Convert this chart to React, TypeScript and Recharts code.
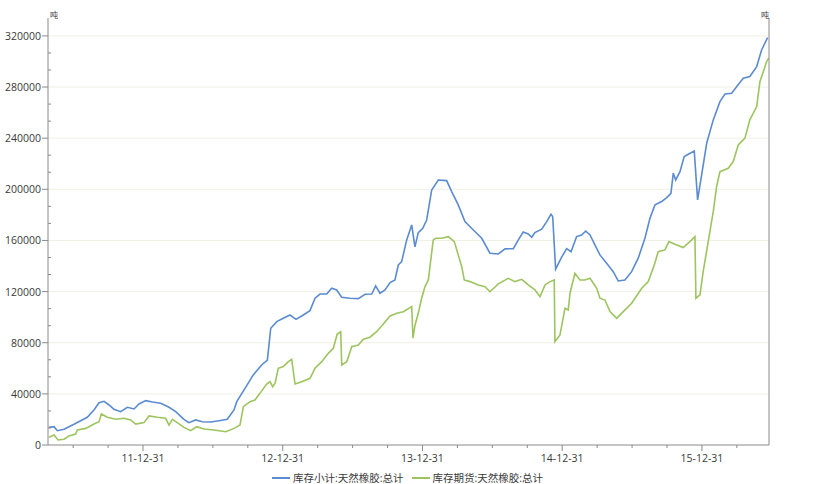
import { LineChart, Line, XAxis, YAxis, ReferenceLine, Legend } from "recharts";

// 时间以小数年表示 (2012.0 = 2011-12-31)
const blueSeries: [number, number][] = [
  [2011.327, 13800], [2011.363, 14300], [2011.387, 11200], [2011.435, 12300], [2011.506, 16200],
  [2011.554, 19000], [2011.601, 21700], [2011.649, 27400], [2011.685, 33100], [2011.721, 34200],
  [2011.757, 31300], [2011.792, 27900], [2011.840, 26100], [2011.888, 29500], [2011.936, 28200],
  [2011.971, 32100], [2012.019, 34700], [2012.067, 33600], [2012.127, 32600], [2012.186, 29500],
  [2012.234, 26100], [2012.293, 20100], [2012.329, 17500], [2012.377, 19600], [2012.424, 18200],
  [2012.485, 18000], [2012.544, 19000], [2012.603, 20100], [2012.651, 27400], [2012.671, 33900],
  [2012.730, 44300], [2012.789, 54800], [2012.849, 62600], [2012.890, 66500], [2012.914, 91300],
  [2012.957, 96500], [2013.004, 99100], [2013.052, 101700], [2013.095, 98300], [2013.147, 101700],
  [2013.195, 105100], [2013.231, 114800], [2013.267, 118100], [2013.315, 118100], [2013.350, 122600],
  [2013.386, 121300], [2013.422, 115600], [2013.481, 114800], [2013.541, 114500], [2013.589, 117900],
  [2013.637, 118100], [2013.665, 124400], [2013.696, 118700], [2013.732, 121300], [2013.768, 127000],
  [2013.803, 129100], [2013.827, 140800], [2013.851, 143400], [2013.887, 160400], [2013.923, 172100],
  [2013.946, 155000], [2013.970, 166100], [2014.002, 169500], [2014.030, 176000], [2014.066, 199500],
  [2014.113, 207300], [2014.173, 206800], [2014.209, 198200], [2014.256, 187800], [2014.304, 174700],
  [2014.364, 168200], [2014.424, 161700], [2014.483, 150000], [2014.543, 149400], [2014.591, 153400],
  [2014.650, 153600], [2014.686, 160400], [2014.721, 166600], [2014.757, 165100], [2014.782, 162500],
  [2014.805, 166100], [2014.853, 168800], [2014.889, 174700], [2014.920, 180500], [2014.932, 178600],
  [2014.953, 137500], [2014.996, 146900], [2015.032, 153600], [2015.063, 151200], [2015.103, 163000],
  [2015.139, 164300], [2015.168, 167400], [2015.199, 164300], [2015.234, 156500], [2015.270, 148700],
  [2015.318, 142200], [2015.365, 135600], [2015.401, 128300], [2015.449, 129100], [2015.497, 135600],
  [2015.544, 146100], [2015.592, 161700], [2015.628, 177400], [2015.664, 187800], [2015.712, 190400],
  [2015.748, 193500], [2015.778, 196900], [2015.795, 212600], [2015.812, 207300], [2015.843, 213800],
  [2015.873, 225600], [2015.902, 227400], [2015.945, 230000], [2015.969, 191700], [2015.998, 211200],
  [2016.034, 236000], [2016.081, 254300], [2016.129, 268600], [2016.165, 274600], [2016.213, 275200],
  [2016.248, 280300], [2016.296, 286900], [2016.343, 288200], [2016.392, 296000], [2016.427, 309000],
  [2016.470, 318700],
];

const greenSeries: [number, number][] = [
  [2011.327, 6000], [2011.363, 7800], [2011.392, 3900], [2011.435, 4500], [2011.470, 7000],
  [2011.518, 8600], [2011.530, 11700], [2011.590, 13000], [2011.649, 16400], [2011.685, 18200],
  [2011.702, 24300], [2011.745, 21700], [2011.805, 20100], [2011.864, 20900], [2011.912, 19600],
  [2011.948, 16400], [2012.007, 17500], [2012.043, 22700], [2012.102, 21700], [2012.162, 20900],
  [2012.186, 15600], [2012.210, 20100], [2012.245, 17500], [2012.293, 13800], [2012.341, 11200],
  [2012.384, 14300], [2012.436, 12500], [2012.508, 11700], [2012.592, 10400], [2012.651, 13000],
  [2012.694, 15600], [2012.718, 30000], [2012.766, 33900], [2012.801, 35200], [2012.837, 40400],
  [2012.885, 47700], [2012.909, 49500], [2012.928, 45600], [2012.945, 48300], [2012.968, 60000],
  [2013.004, 61300], [2013.040, 65200], [2013.064, 67000], [2013.088, 47700], [2013.136, 49500],
  [2013.195, 52200], [2013.231, 60000], [2013.279, 65200], [2013.326, 71700], [2013.362, 75700],
  [2013.390, 86800], [2013.415, 88600], [2013.422, 62600], [2013.458, 65200], [2013.494, 76900],
  [2013.541, 78200], [2013.577, 82700], [2013.624, 84300], [2013.672, 88600], [2013.720, 94700],
  [2013.768, 100900], [2013.816, 103000], [2013.863, 104300], [2013.923, 108200], [2013.932, 83500],
  [2013.946, 93500], [2013.970, 103000], [2013.994, 114800], [2014.018, 123900], [2014.042, 129100],
  [2014.077, 160400], [2014.095, 161700], [2014.137, 161700], [2014.185, 163000], [2014.228, 159100],
  [2014.256, 148700], [2014.281, 139500], [2014.299, 129100], [2014.340, 127800], [2014.399, 125200],
  [2014.447, 123900], [2014.483, 119900], [2014.543, 126000], [2014.614, 130400], [2014.662, 127800],
  [2014.710, 129600], [2014.757, 125200], [2014.805, 121300], [2014.841, 116000], [2014.877, 125200],
  [2014.913, 127800], [2014.943, 129100], [2014.948, 80800], [2014.984, 86100], [2015.020, 107000],
  [2015.043, 105600], [2015.056, 118700], [2015.091, 134300], [2015.127, 129100], [2015.163, 129100],
  [2015.199, 130400], [2015.247, 122600], [2015.270, 114800], [2015.306, 113400], [2015.342, 104300],
  [2015.390, 99100], [2015.437, 104300], [2015.497, 110900], [2015.569, 122600], [2015.616, 127800],
  [2015.659, 140800], [2015.687, 151200], [2015.735, 152600], [2015.764, 159100], [2015.807, 157000],
  [2015.866, 154400], [2015.914, 159100], [2015.950, 163000], [2015.957, 114800], [2015.986, 117400],
  [2016.009, 135600], [2016.045, 159100], [2016.081, 182500], [2016.105, 202100], [2016.129, 213800],
  [2016.188, 216400], [2016.224, 221700], [2016.260, 234700], [2016.308, 240000], [2016.343, 254300],
  [2016.392, 264700], [2016.415, 284200], [2016.439, 292000], [2016.463, 299900], [2016.478, 302500],
];

const seriesNames = ["库存小计:天然橡胶:总计", "库存期货:天然橡胶:总计"];
const seriesColors = ["#5b8bd0", "#9dc45f"];

const yMajorTicks = [0, 40000, 80000, 120000, 160000, 200000, 240000, 280000, 320000];
const xQuarterTicks = [
  2011.5, 2011.75, 2012, 2012.25, 2012.5, 2012.75, 2013, 2013.25, 2013.5, 2013.75,
  2014, 2014.25, 2014.5, 2014.75, 2015, 2015.25, 2015.5, 2015.75, 2016, 2016.25,
];
const xYearLabels: Record<number, string> = {
  2012: "11-12-31",
  2013: "12-12-31",
  2014: "13-12-31",
  2015: "14-12-31",
  2016: "15-12-31",
};

// 每两个主刻度之间两个次刻度
const yAllTicks: number[] = [];
yMajorTicks.forEach((v, i) => {
  yAllTicks.push(v);
  if (i < yMajorTicks.length - 1) {
    const step = (yMajorTicks[i + 1] - v) / 3;
    yAllTicks.push(v + step, v + 2 * step);
  }
});

const blueData = blueSeries.map(([t, v]) => ({ t, v }));
const greenData = greenSeries.map(([t, v]) => ({ t, v }));

const FONT = '"Open Sans", "Noto Sans CJK SC", sans-serif';
const AXIS = "#8a8a8a";
const TEXT = "#3a3a3a";

const isMajor = (v: number) => yMajorTicks.includes(Math.round(v));

const LeftTick = ({ x, y, payload }: any) => {
  const major = isMajor(payload.value);
  return (
    <g>
      {major ? (
        <>
          <line x1={x - 6} x2={x} y1={y} y2={y} stroke={AXIS} />
          <text x={x - 7} y={y + 4} textAnchor="end" fontSize={10.5} fill={TEXT} fontFamily={FONT}>
            {Math.round(payload.value)}
          </text>
        </>
      ) : (
        <line x1={x} x2={x + 3} y1={y} y2={y} stroke={AXIS} />
      )}
    </g>
  );
};

const RightTick = ({ x, y, payload }: any) => {
  const major = isMajor(payload.value);
  return (
    <g>
      {major ? (
        <>
          <line x1={x} x2={x + 6} y1={y} y2={y} stroke={AXIS} />
          <text x={x + 8} y={y + 4} textAnchor="start" fontSize={10.5} fill={TEXT} fontFamily={FONT}>
            {Math.round(payload.value)}
          </text>
        </>
      ) : (
        <line x1={x - 3} x2={x} y1={y} y2={y} stroke={AXIS} />
      )}
    </g>
  );
};

const BottomTick = ({ x, y, payload }: any) => {
  const label = xYearLabels[payload.value];
  return (
    <g>
      <line x1={x} x2={x} y1={y} y2={y + (label ? 6 : 3)} stroke={AXIS} />
      {label && (
        <text x={x} y={y + 17} textAnchor="middle" fontSize={10.5} fill={TEXT} fontFamily={FONT}>
          {label}
        </text>
      )}
    </g>
  );
};

const LegendContent = () => (
  <div
    style={{
      display: "flex",
      justifyContent: "center",
      gap: 8,
      fontFamily: FONT,
      fontSize: 10.5,
      lineHeight: "12px",
      height: 12,
      color: TEXT,
    }}
  >
    {seriesNames.map((name, i) => (
      <div key={name} style={{ display: "flex", alignItems: "center", height: 12 }}>
        <span style={{ display: "inline-block", width: 18, height: 2, background: seriesColors[i], marginRight: 3 }} />
        <span>{name}</span>
      </div>
    ))}
  </div>
);

export default function App() {
  return (
    <div style={{ position: "absolute", left: 0, top: 0, width: 815, height: 484, background: "#fff" }}>
      <LineChart width={815} height={484} margin={{ top: 18, right: 0, bottom: 0, left: 0 }}>
        <XAxis
          dataKey="t"
          type="number"
          domain={[2011.32, 2016.48]}
          allowDataOverflow
          ticks={xQuarterTicks}
          interval={0}
          height={39}
          tickSize={0}
          tickMargin={0}
          tickLine={false}
          axisLine={{ stroke: AXIS }}
          tick={<BottomTick />}
        />
        <YAxis
          yAxisId="left"
          orientation="left"
          width={48}
          domain={[0, 334000]}
          ticks={yAllTicks}
          interval={0}
          tickSize={0}
          tickMargin={0}
          tickLine={false}
          axisLine={{ stroke: AXIS }}
          tick={<LeftTick />}
        />
        <YAxis
          yAxisId="right"
          orientation="right"
          width={46}
          domain={[0, 334000]}
          ticks={yAllTicks}
          interval={0}
          tickSize={0}
          tickMargin={0}
          tickLine={false}
          axisLine={{ stroke: AXIS }}
          tick={<RightTick />}
        />
        {yMajorTicks.slice(1).map((v) => (
          <ReferenceLine key={v} yAxisId="left" y={v} stroke="#f1f0e4" strokeWidth={1} />
        ))}
        <Line
          yAxisId="left"
          data={blueData}
          dataKey="v"
          name={seriesNames[0]}
          stroke={seriesColors[0]}
          strokeWidth={1.6}
          dot={false}
          type="linear"
          isAnimationActive={false}
        />
        <Line
          yAxisId="left"
          data={greenData}
          dataKey="v"
          name={seriesNames[1]}
          stroke={seriesColors[1]}
          strokeWidth={1.6}
          dot={false}
          type="linear"
          isAnimationActive={false}
        />
        <Legend
          layout="horizontal"
          verticalAlign="middle"
          align="center"
          content={<LegendContent />}
          wrapperStyle={{ top: 472, left: 0, width: 815, height: 12 }}
        />
      </LineChart>
      <span style={{ position: "absolute", left: 50, top: 9, fontSize: 8, fontFamily: FONT, color: TEXT }}>吨</span>
      <span style={{ position: "absolute", left: 761, top: 9, fontSize: 8, fontFamily: FONT, color: TEXT }}>吨</span>
    </div>
  );
}
